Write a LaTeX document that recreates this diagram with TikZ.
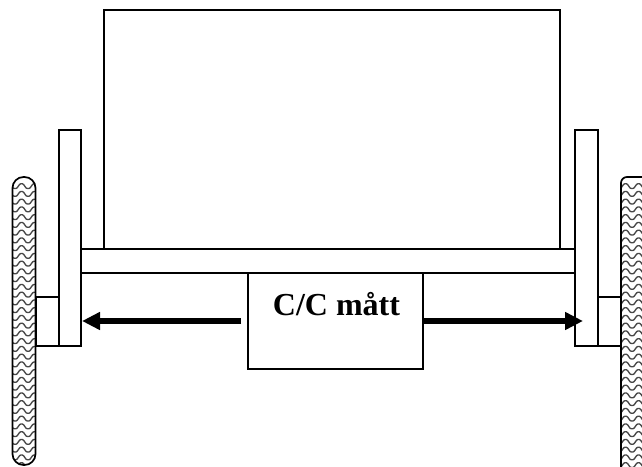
\documentclass[tikz,border=0pt]{standalone}
\usepackage{fontspec}
\setmainfont{Liberation Serif}
\usetikzlibrary{arrows.meta}
\tikzset{
  x=1pt,y=-1pt,
  part/.style={draw=black,line width=1.5pt,fill=white,inner sep=0pt,outer sep=0pt,anchor=north west},
  wheeloutline/.style={draw=black,line width=1.7pt,rounded corners=11pt},
  wave/.style={draw=black!72,line width=1.35pt,line join=round},
  measure/.style={line width=5.5pt,-{Triangle[length=18pt,width=17pt]}}
}
\newcommand{\wavesrows}[2]{%
  \foreach \r in {0,...,37}{%
    \pgfmathsetmacro{\yy}{#2+\r*7.75}
    \draw[wave] (#1,\yy)
      \foreach \k in {0,1,2}{ -- ++(2.6,-3.6) -- ++(1.3,-0.7) -- ++(1.3,0) -- ++(1.3,0.7) -- ++(2.6,3.6) -- ++(1.3,0.5) -- ++(1.3,0) -- ++(1.3,-0.5) };
  }}
\begin{document}
\begin{tikzpicture}
\useasboundingbox (0,0) rectangle (642,466);
\clip (0,0) rectangle (642,466);
\node[part,minimum width=456pt,minimum height=239pt] (body) at (104,10) {};
\node[part,minimum width=495pt,minimum height=24pt] (axle) at (81,249) {};
\node[part,minimum width=22pt,minimum height=216pt] (plateL) at (59,130) {};
\node[part,minimum width=23pt,minimum height=216pt] (plateR) at (575,130) {};
\node[part,minimum width=23pt,minimum height=49pt] (hubL) at (36,297) {};
\node[part,minimum width=23pt,minimum height=49pt] (hubR) at (598,297) {};
% wheels
\begin{scope}
  \clip[rounded corners=11pt] (12.5,177) rectangle (35.5,465);
  \wavesrows{4}{188}
\end{scope}
\draw[wheeloutline] (12.5,177) rectangle (35.5,465);
\begin{scope}
  \clip[rounded corners=6pt] (621,177) rectangle (650,480);
  \wavesrows{608}{188}
\end{scope}
\draw[wheeloutline,rounded corners=6pt] (621,177) rectangle (650,480);
\node[part,minimum width=175pt,minimum height=96pt] (cc) at (248,273) {};
\node[font=\bfseries\fontsize{32}{36}\selectfont,anchor=base] (cclabel) at (336.5,315) {C/C mått};
\coordinate (tipL) at (82,321);
\coordinate (tipR) at (583,321);
\coordinate (startL) at (241,321);
\coordinate (startR) at (cc.east |- tipR);
\draw[measure] (startL) -- (tipL);
\draw[measure] (startR) -- (tipR);
\end{tikzpicture}
\end{document}
